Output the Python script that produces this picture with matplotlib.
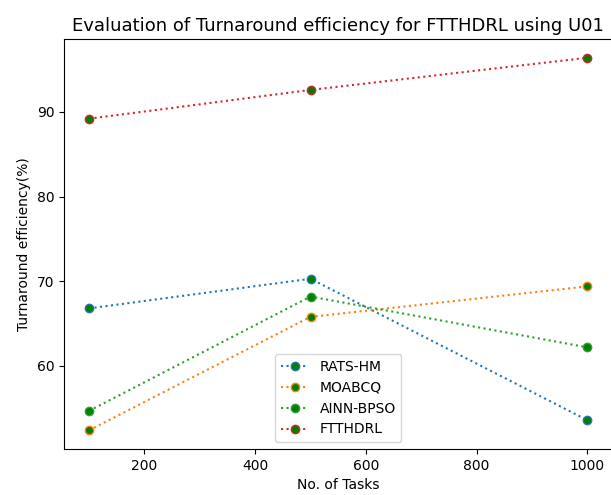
import matplotlib
matplotlib.use("Agg")
import matplotlib.pyplot as plt

tasks = [100, 500, 1000]
rats_hm = [66.8, 70.3, 53.6]
moabcq = [52.4, 65.8, 69.4]
ainn_bpso = [54.7, 68.2, 62.2]
ftthdrl = [89.2, 92.6, 96.4]

fig = plt.figure(figsize=(6.11, 4.95), dpi=100)
ax = fig.add_axes([0.105, 0.093, 0.897, 0.828])

ax.plot(tasks, rats_hm, marker='o', linestyle=':', color='tab:blue', markerfacecolor='green', label='RATS-HM')
ax.plot(tasks, moabcq, marker='o', linestyle=':', color='tab:orange', markerfacecolor='green', label='MOABCQ')
ax.plot(tasks, ainn_bpso, marker='o', linestyle=':', color='tab:green', markerfacecolor='green', label='AINN-BPSO')
ax.plot(tasks, ftthdrl, marker='o', linestyle=':', color='tab:red', markerfacecolor='green', label='FTTHDRL')

ax.set_title('Evaluation of Turnaround efficiency for FTTHDRL using U01', fontsize=13)
ax.set_xlabel('No. of Tasks')
ax.set_ylabel('Turnaround efficiency(%)')
ax.legend(loc='lower center')

fig.savefig("out.png", dpi=100)
